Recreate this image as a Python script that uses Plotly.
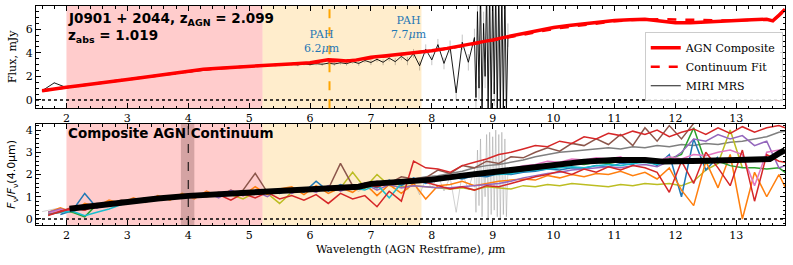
import plotly.graph_objects as go

# ---------------- data ----------------
# top panel: AGN composite & continuum fit (mJy)
agn_x = [1.6, 1.8, 2.0, 2.2, 2.4, 2.6, 2.8, 3.0, 3.25, 3.5, 3.75, 4.0, 4.25, 4.5, 4.75, 5.0,
         5.25, 5.5, 5.75, 6.0, 6.15, 6.3, 6.45, 6.6, 6.75, 7.0, 7.25, 7.5, 7.75, 8.0,
         8.25, 8.5, 8.75, 9.0, 9.25, 9.5, 9.75, 10.0, 10.25, 10.5, 10.75, 11.0, 11.25, 11.5, 11.75,
         12.0, 12.25, 12.5, 12.75, 13.0, 13.25, 13.5, 13.6, 13.7, 13.8]
agn_y = [0.78, 0.95, 1.08, 1.2, 1.35, 1.5, 1.62, 1.74, 1.9, 2.08, 2.28, 2.48, 2.6, 2.7, 2.79, 2.86,
         2.93, 3.0, 3.08, 3.15, 3.28, 3.42, 3.38, 3.3, 3.38, 3.62, 3.75, 3.88, 4.0, 4.18,
         4.38, 4.6, 4.85, 5.1, 5.38, 5.65, 5.92, 6.15, 6.32, 6.48, 6.62, 6.75, 6.82, 6.85, 6.7,
         6.55, 6.55, 6.62, 6.72, 6.78, 6.82, 6.85, 6.72, 7.2, 7.7]
cont_y = [0.78, 0.95, 1.08, 1.2, 1.35, 1.5, 1.62, 1.74, 1.9, 2.08, 2.28, 2.46, 2.58, 2.68, 2.78, 2.86,
          2.93, 3.0, 3.07, 3.13, 3.17, 3.22, 3.27, 3.33, 3.4, 3.55, 3.7, 3.85, 4.0, 4.15,
          4.35, 4.57, 4.82, 5.07, 5.33, 5.58, 5.82, 6.03, 6.2, 6.38, 6.55, 6.68, 6.78, 6.83, 6.85,
          6.84, 6.8, 6.76, 6.75, 6.76, 6.8, 6.83, 6.78, 7.15, 7.65]

# MIRI MRS spectrum (mJy) on its wavelength grid
miri_x = ([round(1.6 + 0.2 * i, 3) for i in range(20)] +
          [round(5.5 + 0.1 * i, 3) for i in range(33)] +
          [round(8.725 + 0.025 * i, 3) for i in range(22)])
miri_y = [0.78, 1.45, 1.05, 1.15, 1.38, 1.45, 1.6, 1.75, 1.85, 2.0, 2.12, 2.25, 2.38, 2.5, 2.6, 2.68,
          2.8, 2.85, 2.93, 2.95,
          2.97, 3.0, 3.02, 2.98, 3.06, 3.0, 3.08, 3.03, 3.12, 3.05, 3.16, 3.08, 3.25, 3.1, 3.35,
          3.18, 3.45, 3.2, 3.55, 3.25, 3.7, 3.3, 3.95, 2.9, 4.3, 3.4, 4.7, 3.1, 4.5, 0.6, 4.9,
          3.2, 5.3,
          0.2, 7.5, 1.0, 9.5, -1, 6.5, 2.0, 9.5, -1, 9.5, -1, 9.5, 0.5, 9.5, -1, 9.5, -1, 9.5, -1,
          9.5, -1, 5.5]
miri_err = [0.06, 0.06, 0.06, 0.06, 0.06, 0.06, 0.06, 0.06, 0.06, 0.06, 0.06, 0.06, 0.06, 0.06,
            0.06, 0.06, 0.06, 0.06, 0.06, 0.06,
            0.1, 0.1, 0.1, 0.12, 0.12, 0.12, 0.14, 0.14, 0.15, 0.15, 0.16, 0.17, 0.18, 0.2, 0.2,
            0.22, 0.24, 0.25, 0.27, 0.3, 0.32, 0.35, 0.38, 0.4, 0.42, 0.45, 0.48, 0.5, 0.55, 0.6,
            0.65, 0.7, 0.75,
            1.0, 1.0, 1.0, 1.0, 1.0, 1.0, 1.0, 1.0, 1.0, 1.0, 1.0, 1.0, 1.0, 1.0, 1.0, 1.0, 1.0,
            1.0, 1.0, 1.0, 1.0, 1.0]

# bottom panel: normalised MIRI (light grey) on the same grid
norm_miri_y = [0.33, 0.45, 0.44, 0.48, 0.58, 0.61, 0.67, 0.74, 0.78, 0.84, 0.89, 0.95, 1.0, 1.05,
               1.09, 1.13, 1.18, 1.2, 1.23, 1.24,
               1.25, 1.24, 1.28, 1.26, 1.3, 1.24, 1.3, 1.28, 1.32, 1.26, 1.35, 1.28, 1.39, 1.24,
               1.45, 1.3, 1.49, 1.26, 1.55, 1.35, 1.6, 1.3, 1.72, 1.09, 1.8, 1.38, 1.97, 1.26,
               1.89, 0.3, 2.06, 1.34, 2.22,
               0.3, 3.1, 0.6, 3.6, 0.1, 2.7, 1.0, 3.8, 0.0, 3.9, 0.2, 3.7, 0.4, 4.0, 0.1, 3.8, 0.0,
               3.9, 0.2, 3.6, 0.1, 2.3]

# bottom panel: individual normalised AGN spectra on a common grid
comp_x = [round(1.7 + 0.2 * i, 2) for i in range(62)]
N = None
blue = [N, 0.2, 0.38, 1.15, 0.5, 0.7, 0.7, 0.85, 0.92, 0.85,
        1.02, 1.0, 1.1, 1.05, 1.15, 1.08, 1.25, 1.12, 1.3, 1.15,
        1.35, 1.2, 1.7, 1.25, 1.55, 1.35, 1.6, 1.4, 1.75, 1.5,
        1.85, 1.6, 1.75, 1.9, 1.8, 1.95, 1.9, 2.05, 2.0, 2.1,
        2.15, 2.25, 2.2, 2.3, 2.28, 2.4, 2.35, 2.5, 2.45, 2.7,
        2.4, 2.9, 1.0, 3.6, 2.2, 2.8, N, N, N, N, N, N]
orange = [0.3, 0.5, 0.3, 0.7, 0.55, 0.85, 0.7, 0.95, 0.75, 1.05,
          0.85, 1.15, 0.9, 1.25, 1.0, 1.3, 1.05, 1.45, 1.1, 1.35,
          1.45, 1.1, 1.5, 1.15, 1.4, 1.2, 1.6, 1.05, 1.55, 1.15,
          1.6, 0.9, 1.5, 1.55, 1.7, 1.5, 1.6, 1.7, 1.75, 1.8,
          1.75, 1.95, 1.85, 2.0, 1.9, 2.05, 2.0, 2.15, 1.95, 2.1,
          1.8, 2.3, 1.3, 0.6, 2.6, 1.4, 2.9, 0.0, 2.1, 1.0, 2.0, 0.9]
green = [0.25, 0.4, 0.3, 0.1, 0.65, 0.7, 0.8, 0.78, 0.95, 0.9,
         1.0, 1.1, 1.0, 1.15, 1.1, 1.2, 1.15, 1.25, 1.2, 1.3,
         1.25, 1.35, 1.3, 1.45, 1.35, 1.5, 1.4, 1.6, 1.55, 1.7,
         1.75, 1.8, 1.85, 1.9, 2.0, 2.05, 2.1, 2.15, 2.2, 2.3,
         2.3, 2.4, 2.4, 2.5, 2.45, 2.55, 2.5, 2.6, 2.55, 2.65,
         2.6, 2.7, 2.9, 4.1, 2.5, 2.6, 2.4, 2.3, 2.3, 2.25, 2.3, 1.9]
red_a = [N, 0.35, 0.5, 0.4, 0.62, 0.7, 0.75, 0.8, 0.85, 0.9,
         0.95, 1.0, 1.05, 1.0, 1.1, 0.85, 1.15, 0.95, 1.2, 0.9,
         1.05, 0.85, 1.1, 0.7, 1.15, 0.9, 1.05, 0.55, 1.25, 0.8,
         2.6, 2.3, 2.25, 2.1, 2.4, 2.55, 2.7, 2.9, 3.0, 3.15,
         3.3, 3.25, 3.5, 3.4, 3.7, 3.6, 3.85, 3.75, 3.95, 3.8,
         4.0, 3.7, 3.9, 4.05, 3.8, 4.1, 3.85, 4.15, 3.9, 4.1, 4.2, 4.0]
red_b = [0.15, 0.35, 0.45, 0.55, 0.55, 0.7, 0.72, 0.8, 0.88, 0.92,
         1.0, 1.0, 1.08, 1.1, 1.1, 1.15, 1.2, 1.15, 1.25, 1.2,
         1.3, 1.25, 1.35, 1.3, 1.5, 1.35, 1.55, 1.45, 1.6, 1.6,
         1.7, 1.65, 1.5, 1.35, 1.45, 1.3, 1.5, 1.45, 1.6, 1.75,
         1.9, 2.0, 2.15, 2.0, 2.25, 2.1, 2.35, 2.2, 2.4, 2.3,
         2.1, 1.2, 2.6, 1.6, 3.0, 2.3, 1.5, 3.1, 0.8, 2.9, 2.6, 2.5]
purple = [0.3, 0.45, 0.35, 0.6, 0.5, 0.75, 0.65, 0.9, 0.75, 1.0,
          0.9, 1.1, 0.95, 1.2, 0.95, 1.3, 1.05, 1.25, 1.0, 1.35,
          1.15, 1.4, 1.2, 1.5, 1.25, 1.45, 1.6, 1.3, 1.55, 1.4,
          1.5, 1.45, 1.4, 1.4, 1.45, 1.5, 1.55, 1.6, 1.7, 1.85,
          1.95, 2.05, 2.1, 2.2, 2.25, 2.3, 2.35, 2.3, 2.4, 2.45,
          2.35, 2.6, 3.0, 3.6, 3.5, 3.8, 3.6, 3.75, 3.3, 3.5, 2.3, 2.5]
brown = [0.2, 0.3, 0.55, 0.4, 0.7, 0.65, 0.85, 0.8, 0.95, 0.88,
         1.05, 1.0, 1.1, 1.05, 1.2, 1.1, 1.3, 2.05, 1.2, 1.25,
         1.35, 1.3, 1.45, 1.35, 2.5, 1.5, 1.55, 1.7, 1.6, 1.9,
         1.8, 1.85, 2.2, 2.05, 2.4, 2.3, 2.6, 2.5, 2.8, 2.75,
         3.0, 3.2, 3.05, 3.4, 3.3, 3.6, 3.35, 3.8, 3.3, 4.1,
         3.5, 4.2, 3.6, 4.3, N, N, N, N, N, N, N, N]
pink = [0.25, 0.4, 0.42, 0.55, 0.6, 0.72, 0.7, 0.85, 0.85, 0.95,
        0.98, 1.05, 1.02, 1.12, 1.1, 1.15, 1.18, 1.15, 1.25, 1.2,
        1.3, 1.25, 1.4, 1.3, 1.45, 1.4, 1.5, 1.55, 1.6, 1.65,
        1.7, 1.85, 1.8, 1.95, 1.9, 2.05, 2.1, 2.2, 2.25, 2.4,
        2.45, 2.6, 2.55, 2.7, 2.65, 2.75, 2.7, 2.8, 2.5, 2.75,
        2.6, 2.8, 2.7, 2.9, 2.85, 3.0, 3.1, 2.9, 1.5, 3.0, 3.1, 2.8]
grey = [0.28, 0.38, 0.45, 0.5, 0.62, 0.7, 0.75, 0.82, 0.88, 0.95,
        1.0, 1.02, 1.08, 1.1, 1.15, 1.15, 1.2, 1.2, 1.25, 1.25,
        1.3, 1.35, 1.4, 1.45, 1.5, 1.5, 1.6, 1.65, 1.7, 1.75,
        1.8, 1.9, 1.95, 2.05, 2.15, 2.3, 2.4, 2.45, 2.55, 2.65,
        2.8, 2.9, 3.0, 3.05, 3.1, 3.15, 3.2, 3.15, 3.25, 3.2,
        3.3, 3.25, 3.35, 3.3, 3.4, 3.35, 3.45, 3.5, 3.6, 3.7, 3.9, 4.0]
olive = [0.3, 0.42, 0.4, 0.6, 0.58, 0.72, 0.75, 0.8, 0.9, 0.95,
         1.0, 1.05, 1.0, 1.1, 1.15, 1.1, 0.9, 1.2, 1.15, 0.7,
         1.2, 1.25, 1.3, 1.35, 1.4, 2.1, 1.4, 2.0, 1.5, 1.45,
         1.5, 1.45, 1.4, 1.35, 1.4, 1.3, 1.45, 1.4, 1.35, 1.5,
         1.45, 1.55, 1.5, 1.6, 1.55, 1.5, 1.45, 1.55, 1.5, 1.6,
         1.55, 1.6, 1.5, 1.7, 2.2, 2.5, 4.0, 2.3, N, N, N, N]
cyan = [0.2, 0.3, 0.35, 0.15, 0.3, 0.45, 0.65, 0.78, 0.85, 0.9,
        0.95, 1.0, 1.05, 1.05, 1.1, 1.15, 1.12, 1.2, 1.18, 1.25,
        1.28, 1.3, 1.35, 1.32, 1.45, 1.4, 1.3, 1.55, 0.95, 1.6,
        1.65, 1.7, 1.75, 1.8, 1.85, 1.95, 2.0, 2.0, 2.05, 2.15,
        2.2, 2.25, 2.3, 2.35, 2.3, 2.4, 2.45, 2.4, 2.5, 2.55,
        2.45, 2.6, 2.55, 2.7, 2.65, 2.6, N, N, N, N, N, N]

series = [("#7f7f7f", grey), ("#bcbd22", olive), ("#1f77b4", blue), ("#ff7f0e", orange),
          ("#2ca02c", green), ("#9467bd", purple), ("#e377c2", pink), ("#17becf", cyan),
          ("#8c564b", brown), ("#d62728", red_b), ("#d62728", red_a)]

# composite AGN continuum (black)
bx = [2.05, 2.5, 3.0, 3.5, 4.0, 4.5, 5.0, 5.5, 6.0, 6.5, 6.8, 7.0, 7.5, 8.0, 8.5, 9.0, 9.5, 10.0,
      10.5, 11.0, 11.5, 11.8, 12.0, 12.5, 13.0, 13.4, 13.55, 13.7, 13.8]
by = [0.46, 0.62, 0.78, 0.92, 1.04, 1.12, 1.17, 1.22, 1.33, 1.42, 1.45, 1.58, 1.68, 1.77, 1.95,
      2.12, 2.3, 2.45, 2.58, 2.65, 2.65, 2.58, 2.58, 2.62, 2.65, 2.66, 2.7, 2.95, 3.1]

# ---------------- figure ----------------
fig = go.Figure()

# top panel
fig.add_trace(go.Scatter(x=miri_x, y=miri_y, mode="lines", name="MIRI MRS",
                         line=dict(color="black", width=0.9),
                         error_y=dict(type="data", array=miri_err, color="rgba(0,0,0,0.3)",
                                      thickness=0.8, width=0),
                         xaxis="x", yaxis="y", legendrank=3))
fig.add_trace(go.Scatter(x=agn_x, y=cont_y, mode="lines", name="Continuum Fit",
                         line=dict(color="#ff0000", width=2.5, dash="dash"),
                         xaxis="x", yaxis="y", legendrank=2))
fig.add_trace(go.Scatter(x=agn_x, y=agn_y, mode="lines", name="AGN Composite",
                         line=dict(color="#ff0000", width=3.5),
                         xaxis="x", yaxis="y", legendrank=1))

# bottom panel
fig.add_trace(go.Scatter(x=miri_x, y=norm_miri_y, mode="lines", showlegend=False,
                         line=dict(color="rgba(150,150,150,0.45)", width=1),
                         xaxis="x2", yaxis="y2"))
for col, vals in series:
    v = (list(vals) + [None] * 62)[:62]
    fig.add_trace(go.Scatter(x=comp_x, y=v, mode="lines", showlegend=False,
                             line=dict(color=col, width=1.5),
                             xaxis="x2", yaxis="y2"))
fig.add_trace(go.Scatter(x=bx, y=by, mode="lines", showlegend=False,
                         line=dict(color="black", width=6),
                         xaxis="x2", yaxis="y2"))

shapes = []
for xr, yr in (("x", "y"), ("x2", "y2")):
    shapes.append(dict(type="rect", xref=xr, yref=yr + " domain", x0=2.0, x1=5.22, y0=0, y1=1,
                       fillcolor="rgba(255,0,0,0.2)", line=dict(width=0), layer="below"))
    shapes.append(dict(type="rect", xref=xr, yref=yr + " domain", x0=5.22, x1=7.83, y0=0, y1=1,
                       fillcolor="rgba(255,165,0,0.2)", line=dict(width=0), layer="below"))
    shapes.append(dict(type="line", xref=xr + " domain", yref=yr, x0=0, x1=1, y0=0, y1=0,
                       line=dict(color="black", width=1.5, dash="dot")))
shapes.append(dict(type="line", xref="x", yref="y domain", x0=6.32, x1=6.32, y0=0, y1=1,
                   line=dict(color="#ffa500", width=2, dash="dash")))
shapes.append(dict(type="rect", xref="x2", yref="y2 domain", x0=3.88, x1=4.1, y0=0, y1=1,
                   fillcolor="rgba(60,20,20,0.22)", line=dict(width=0), layer="below"))
shapes.append(dict(type="line", xref="x2", yref="y2 domain", x0=4.0, x1=4.0, y0=0, y1=1,
                   line=dict(color="black", width=1, dash="dash")))

SERIF = "DejaVu Serif"
SANS = "DejaVu Sans"
annotations = [
    dict(text="<b>J0901 + 2044, z<sub>AGN</sub> = 2.099</b>", x=2.0, y=6.85, xref="x", yref="y",
         xanchor="left", yanchor="middle", showarrow=False, font=dict(family=SANS, size=13.5)),
    dict(text="<b>z<sub>abs</sub> = 1.019</b>", x=2.0, y=5.45, xref="x", yref="y",
         xanchor="left", yanchor="middle", showarrow=False, font=dict(family=SANS, size=13.5)),
    dict(text="PAH<br>6.2<i>μ</i>m", x=6.2, y=4.97, xref="x", yref="y", showarrow=False,
         xanchor="center", yanchor="middle", font=dict(family=SERIF, size=11, color="#1f77b4")),
    dict(text="PAH<br>7.7<i>μ</i>m", x=7.62, y=6.13, xref="x", yref="y", showarrow=False,
         xanchor="center", yanchor="middle", font=dict(family=SERIF, size=11, color="#1f77b4")),
    dict(text="<b>Composite AGN Continuum</b>", x=2.0, y=3.87, xref="x2", yref="y2",
         xanchor="left", yanchor="middle", showarrow=False, font=dict(family=SANS, size=13.5)),
    dict(text="Flux, mJy", textangle=-90, x=0, y=0.767, xref="paper", yref="paper",
         xanchor="center", yanchor="middle", xshift=-24, showarrow=False,
         font=dict(family=SERIF, size=11)),
    dict(text="<i>F</i><sub>ν</sub>/<i>F</i><sub>ν</sub>(4.0μm)", textangle=-90, x=0, y=0.23,
         xref="paper", yref="paper", xanchor="center", yanchor="middle", xshift=-24,
         showarrow=False, font=dict(family=SANS, size=11)),
    dict(text="Wavelength (AGN Restframe), <i>μ</i>m", x=0.5, y=0, xref="paper", yref="paper",
         xanchor="center", yanchor="top", yshift=-16, showarrow=False,
         font=dict(family=SERIF, size=11)),
]

axis_common = dict(showline=True, linecolor="black", linewidth=1, mirror="allticks",
                   ticks="inside", ticklen=5, tickwidth=1, tickcolor="black",
                   showgrid=False, zeroline=False, automargin=False,
                   tickfont=dict(family=SERIF, size=11, color="black"))

fig.update_layout(
    width=793, height=265, margin=dict(l=36, r=8, t=6, b=40),
    plot_bgcolor="white", paper_bgcolor="white",
    font=dict(family=SERIF, size=11, color="black"),
    xaxis=dict(domain=[0, 1], anchor="y", range=[1.5, 13.8], tick0=0, dtick=1,
               minor=dict(ticks="inside", ticklen=2.5, tickcolor="black", dtick=0.2, tick0=0),
               **axis_common),
    yaxis=dict(domain=[0.533, 1], anchor="x", range=[-0.71, 7.98], tick0=0, dtick=2,
               minor=dict(ticks="inside", ticklen=2.5, tickcolor="black", dtick=0.5, tick0=0),
               **axis_common),
    xaxis2=dict(domain=[0, 1], anchor="y2", range=[1.5, 13.8], tick0=0, dtick=1,
                minor=dict(ticks="inside", ticklen=2.5, tickcolor="black", dtick=0.2, tick0=0),
                **axis_common),
    yaxis2=dict(domain=[0, 0.461], anchor="x2", range=[-0.27, 4.27], tick0=0, dtick=1,
                minor=dict(ticks="inside", ticklen=2.5, tickcolor="black", dtick=0.2, tick0=0),
                **axis_common),
    legend=dict(x=0.997, y=0.565, xanchor="right", yanchor="bottom",
                bgcolor="rgba(255,255,255,0.85)", bordercolor="#cccccc", borderwidth=1,
                font=dict(family=SERIF, size=11), tracegroupgap=0, itemwidth=30),
    shapes=shapes, annotations=annotations,
)

fig.write_html("out.html", config={"displayModeBar": False})

# remove the browser's default page margin so the figure sits at the window origin
with open("out.html", encoding="utf-8") as fh:
    page = fh.read()
page = page.replace("<body>", '<body style="margin:0;padding:0;">', 1)
with open("out.html", "w", encoding="utf-8") as fh:
    fh.write(page)
